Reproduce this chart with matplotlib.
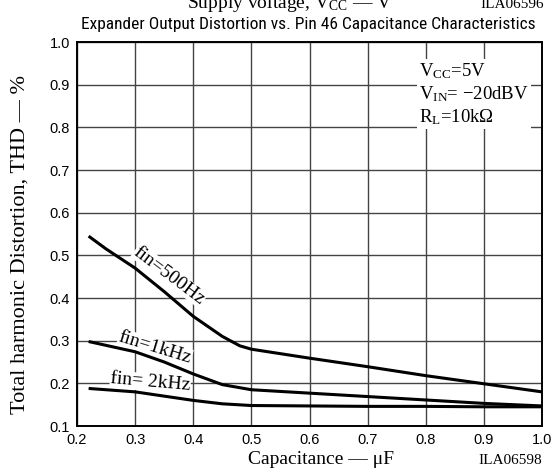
import matplotlib
matplotlib.use("Agg")
import matplotlib.pyplot as plt
from matplotlib import font_manager
import numpy as np

# Data
cap_500 = [0.22, 0.25, 0.30, 0.35, 0.40, 0.45, 0.48, 0.50, 0.60, 0.70, 0.80, 0.90, 1.00]
thd_500 = [0.545, 0.515, 0.470, 0.415, 0.357, 0.310, 0.288, 0.280, 0.259, 0.239, 0.218, 0.199, 0.180]

cap_1k = [0.22, 0.30, 0.35, 0.40, 0.45, 0.50, 0.60, 0.70, 0.80, 0.90, 1.00]
thd_1k = [0.298, 0.274, 0.250, 0.222, 0.197, 0.185, 0.177, 0.169, 0.161, 0.153, 0.147]

cap_2k = [0.22, 0.30, 0.35, 0.40, 0.45, 0.50, 0.60, 0.70, 0.80, 0.90, 1.00]
thd_2k = [0.188, 0.180, 0.170, 0.160, 0.152, 0.148, 0.147, 0.146, 0.146, 0.145, 0.145]

x_ticks = [0.2, 0.3, 0.4, 0.5, 0.6, 0.7, 0.8, 0.9, 1.0]
y_ticks = [0.1, 0.2, 0.3, 0.4, 0.5, 0.6, 0.7, 0.8, 0.9, 1.0]

serif = "Liberation Serif"
sans = "Liberation Sans"
plt.rcParams["mathtext.fontset"] = "custom"
plt.rcParams["mathtext.rm"] = serif
plt.rcParams["mathtext.it"] = serif + ":italic"

# look for a condensed sans face for the title
names = {f.name for f in font_manager.fontManager.ttflist}
title_font, title_size = sans, 11
for cand in ["Liberation Sans Narrow", "DejaVu Sans Condensed", "Roboto Condensed",
             "Open Sans Condensed", "Noto Sans Condensed"]:
    if cand in names:
        title_font, title_size = cand, 12.5
        break

fig = plt.figure(figsize=(5.55, 4.72), dpi=100)
ax = fig.add_axes([77/555, 1-426/472, (542-77)/555, (426-42)/472])

ax.set_xlim(0.2, 1.0)
ax.set_ylim(0.1, 1.0)
ax.set_xticks(x_ticks)
ax.set_yticks(y_ticks)
ax.set_xticklabels([f"{v:.1f}" for v in x_ticks], fontfamily=sans, fontsize=10.5)
ax.set_yticklabels([f"{v:.1f}" for v in y_ticks], fontfamily=sans, fontsize=10.5)
ax.tick_params(length=0, pad=5)
ax.grid(True, color="#444444", linewidth=1.0)
for s in ax.spines.values():
    s.set_linewidth(1.4)
    s.set_color("black")

for xs, ys in [(cap_500, thd_500), (cap_1k, thd_1k), (cap_2k, thd_2k)]:
    ax.plot(xs, ys, color="black", linewidth=2.2, solid_capstyle="butt", zorder=3)

bb = dict(facecolor="white", edgecolor="none", pad=0.3)
ax.text(0.359, 0.453, "fin=500Hz", rotation=-37, ha="center", va="center",
        fontfamily=serif, fontsize=14, bbox=bb, zorder=2.5)
ax.text(0.334, 0.284, "fin=1kHz", rotation=-17, ha="center", va="center",
        fontfamily=serif, fontsize=14, bbox=bb, zorder=2.5)
ax.text(0.326, 0.202, "fin= 2kHz", rotation=-5, ha="center", va="center",
        fontfamily=serif, fontsize=14, bbox=bb, zorder=2.5)

ax.text(0.789, 0.955, r"V$_{\rm CC}$=5V" + "\n" + r"V$_{\rm IN}$= $-$20dBV" + "\n" + r"R$_{\rm L}$=10k$\Omega$",
        ha="left", va="top", fontfamily=serif, fontsize=13.5, linespacing=1.22,
        bbox=dict(facecolor="white", edgecolor="none", pad=1.5), zorder=4)

fig.text(308/555, 1-24/472, "Expander Output Distortion vs. Pin 46 Capacitance Characteristics",
         ha="center", va="center", fontfamily=title_font, fontsize=title_size)
fig.text(290/555, 1-4/472, r"Supply voltage, V$_{\rm CC}$ — V", ha="center", va="center",
         fontfamily=serif, fontsize=14)
fig.text(512/555, 1-4/472, "ILA06596", ha="center", va="center", fontfamily=serif, fontsize=11)

fig.text(20/555, 1-244/472, "Total harmonic Distortion, THD — %", rotation=90,
         ha="center", va="center", fontfamily=serif, fontsize=16)
fig.text(321/555, 1-460/472, "Capacitance — μF", ha="center", va="center",
         fontfamily=serif, fontsize=14)
fig.text(510/555, 1-460/472, "ILA06598", ha="center", va="center",
         fontfamily=serif, fontsize=11)

fig.savefig("out.png", dpi=100, facecolor="white")
